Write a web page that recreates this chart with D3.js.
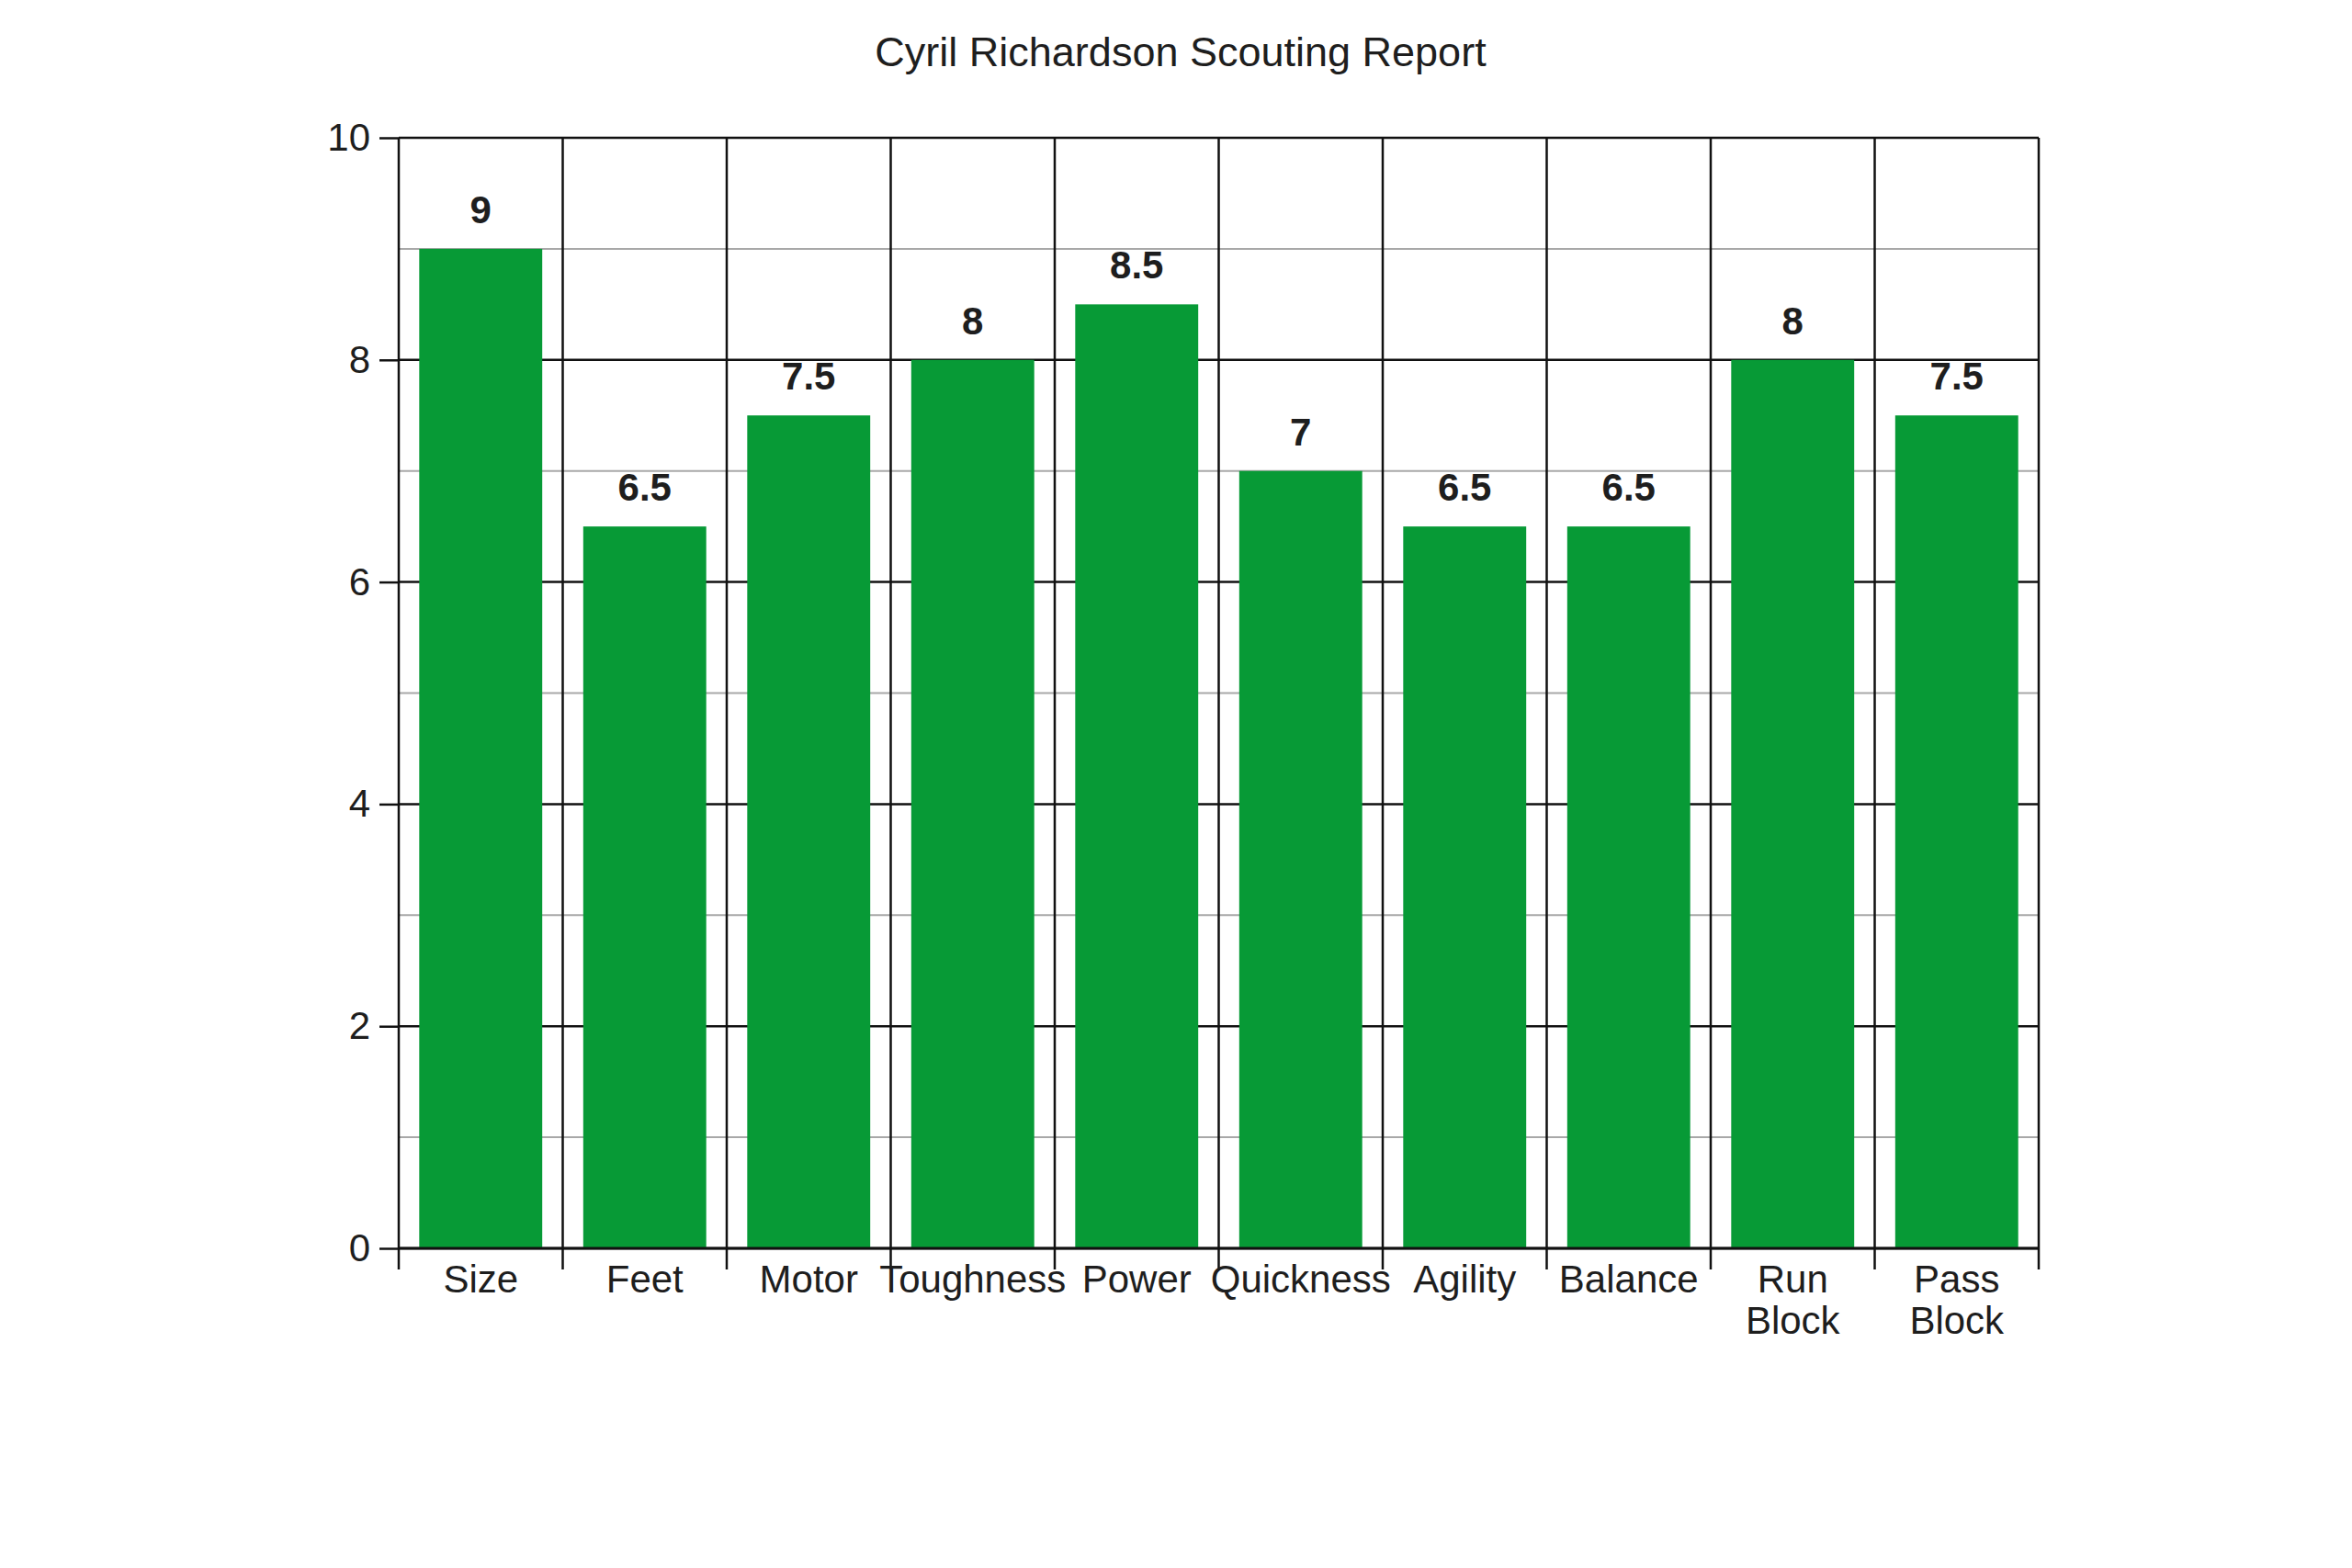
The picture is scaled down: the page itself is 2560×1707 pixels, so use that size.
<!DOCTYPE html>
<html>
<head>
<meta charset="utf-8">
<script src="https://cdn.jsdelivr.net/npm/d3@7"></script>
<style>
  html, body { margin: 0; padding: 0; background: #fff; }
  svg { display: block; }
  text { font-family: "Liberation Sans", Arial, Helvetica, sans-serif; fill: #1e1e1e; }
</style>
</head>
<body>
<svg id="chart" width="2560" height="1707"></svg>
<script>
const title = "Cyril Richardson Scouting Report";
const categories = ["Size", "Feet", "Motor", "Toughness", "Power", "Quickness", "Agility", "Balance", "Run Block", "Pass Block"];
const values = [9, 6.5, 7.5, 8, 8.5, 7, 6.5, 6.5, 8, 7.5];
const majorTicks = [0, 2, 4, 6, 8, 10];
const minorTicks = [1, 3, 5, 7, 9];

const W = 2560, H = 1707;
const plot = { left: 434, right: 2219, top: 150, bottom: 1359 };

const svg = d3.select("#chart");

const x = d3.scaleBand()
  .domain(categories)
  .range([plot.left, plot.right])
  .paddingInner(0.25)
  .paddingOuter(0.125);

const y = d3.scaleLinear()
  .domain([0, 10])
  .range([plot.bottom, plot.top]);

// Title
svg.append("text")
  .attr("x", 1285)
  .attr("y", 72)
  .attr("text-anchor", "middle")
  .attr("font-size", 45)
  .text(title);

// minor gridlines
svg.append("g").selectAll("line").data(minorTicks).join("line")
  .attr("x1", plot.left).attr("x2", plot.right)
  .attr("y1", d => y(d)).attr("y2", d => y(d))
  .attr("stroke", "#a8a8a8").attr("stroke-width", 2);

// major gridlines
svg.append("g").selectAll("line").data(majorTicks).join("line")
  .attr("x1", plot.left).attr("x2", plot.right)
  .attr("y1", d => y(d)).attr("y2", d => y(d))
  .attr("stroke", "#111").attr("stroke-width", 2.5);

// vertical band boundaries (extend below axis as ticks)
const bounds = d3.range(categories.length + 1).map(i => plot.left + i * x.step());
svg.append("g").selectAll("line").data(bounds).join("line")
  .attr("x1", d => d).attr("x2", d => d)
  .attr("y1", plot.top).attr("y2", plot.bottom + 23)
  .attr("stroke", "#111").attr("stroke-width", 2.5);

// bars
svg.append("g").selectAll("rect").data(values).join("rect")
  .attr("x", (d, i) => x(categories[i]))
  .attr("width", x.bandwidth())
  .attr("y", d => y(d))
  .attr("height", d => y(0) - y(d))
  .attr("fill", "#079a36");

// bottom axis line drawn over bars
svg.append("line")
  .attr("x1", plot.left).attr("x2", plot.right)
  .attr("y1", y(0)).attr("y2", y(0))
  .attr("stroke", "#111").attr("stroke-width", 3);

// y axis
const yAxis = d3.axisLeft(y)
  .tickValues(majorTicks)
  .tickSize(21)
  .tickPadding(10)
  .tickFormat(d3.format("d"));
const gy = svg.append("g")
  .attr("transform", `translate(${plot.left},0)`)
  .call(yAxis);
gy.select(".domain").remove();
gy.selectAll(".tick line").attr("stroke", "#111").attr("stroke-width", 2.5);
gy.selectAll(".tick text")
  .attr("font-size", 42)
  .attr("font-family", "Liberation Sans, Arial, sans-serif")
  .attr("fill", "#1e1e1e");

// x axis labels (wrapped on spaces)
const xAxis = d3.axisBottom(x).tickSize(0).tickPadding(0);
const gx = svg.append("g")
  .attr("transform", `translate(0,${plot.bottom})`)
  .call(xAxis);
gx.select(".domain").remove();
gx.selectAll(".tick text")
  .attr("font-size", 42)
  .attr("font-family", "Liberation Sans, Arial, sans-serif")
  .attr("fill", "#1e1e1e")
  .each(function(d) {
    const t = d3.select(this);
    const words = d.split(" ");
    t.text(null).attr("y", 0).attr("dy", null);
    words.forEach((w, i) => {
      t.append("tspan")
        .attr("x", 0)
        .attr("y", 48 + i * 45)
        .text(w);
    });
  });

// value labels
svg.append("g").selectAll("text").data(values).join("text")
  .attr("x", (d, i) => x(categories[i]) + x.bandwidth() / 2)
  .attr("y", d => y(d) - 28)
  .attr("text-anchor", "middle")
  .attr("font-size", 42)
  .attr("font-weight", "bold")
  .text(d => d);
</script>
</body>
</html>
